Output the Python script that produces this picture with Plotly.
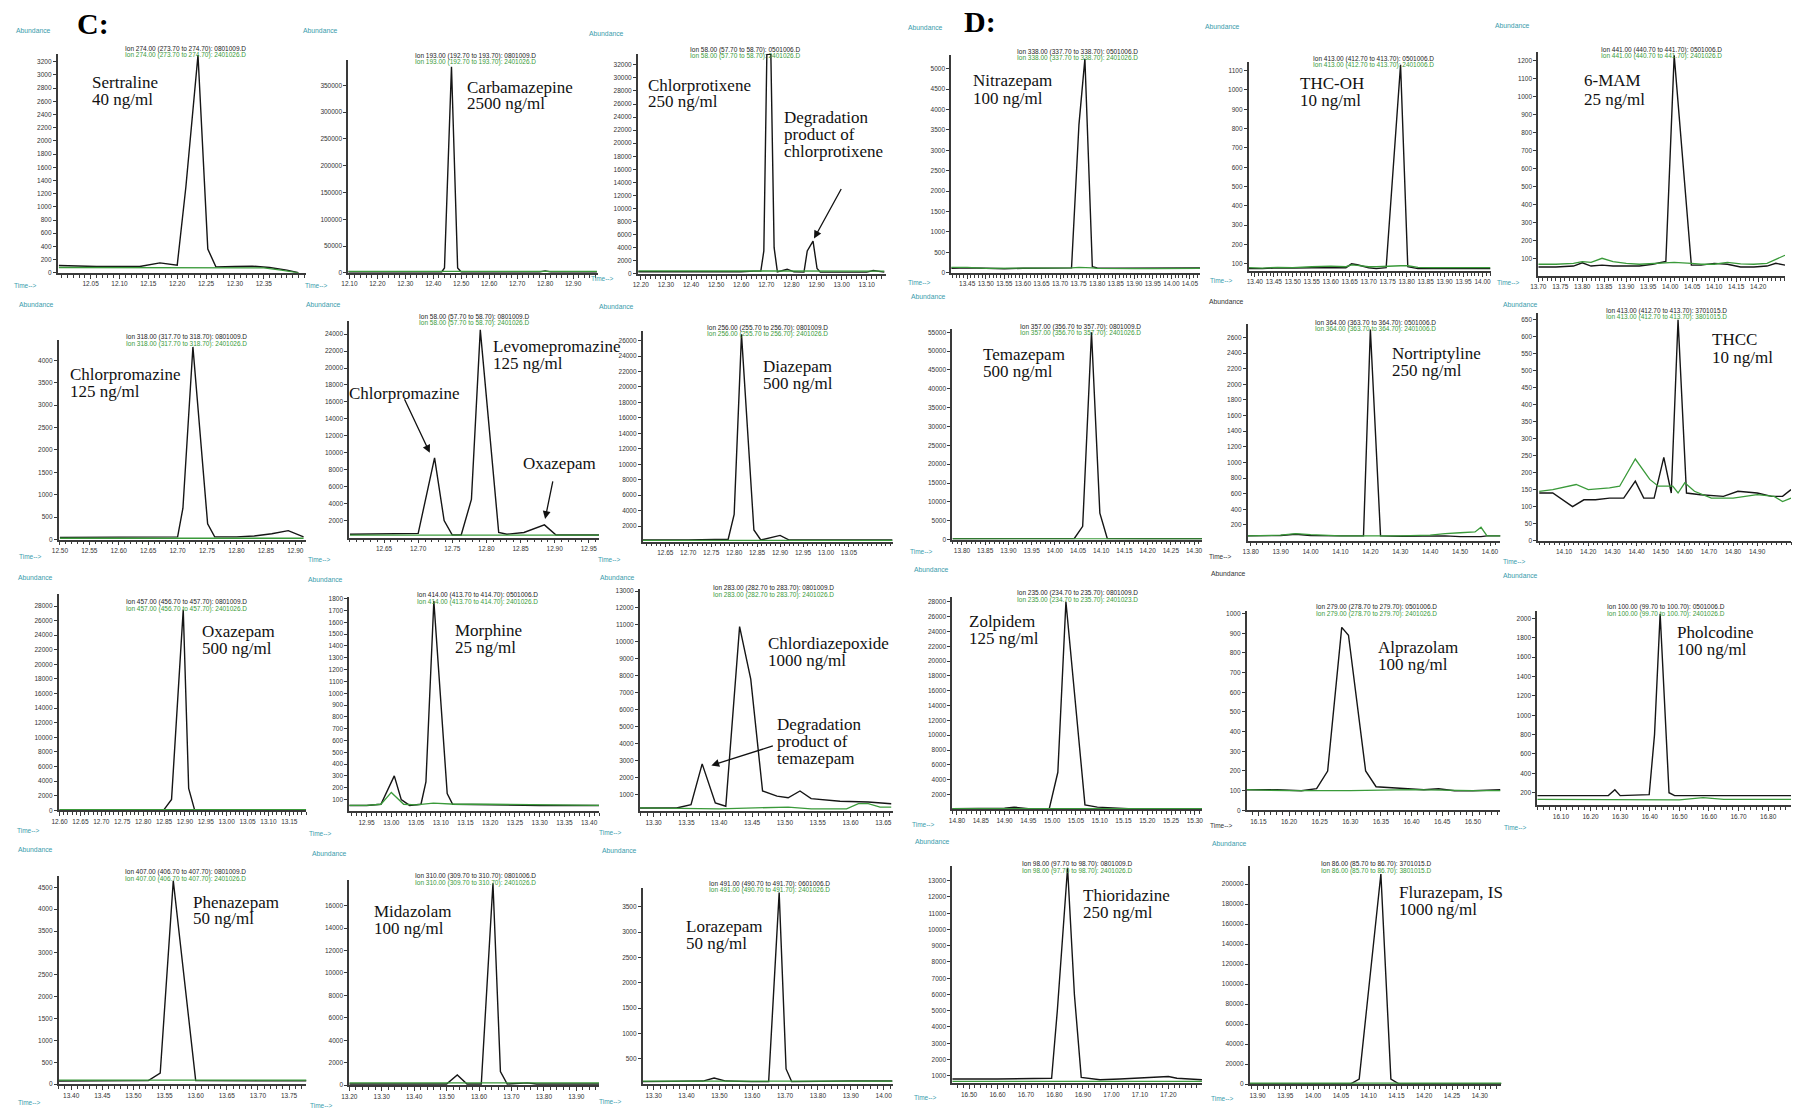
import plotly.graph_objects as go

W, H = 1793, 1112

# ---------------- data (retention time, abundance) ----------------
sertraline_t = [11.995, 12.03, 12.06, 12.10, 12.135, 12.17, 12.20, 12.215, 12.236, 12.253, 12.267, 12.30, 12.33, 12.36, 12.39, 12.41]
sertraline_sample = [110, 100, 95, 95, 95, 150, 115, 1300, 3300, 360, 90, 95, 100, 80, 40, 0]
sertraline_blank_t = [11.995, 12.10, 12.20, 12.30, 12.35, 12.38, 12.41]
sertraline_blank = [80, 78, 80, 78, 75, 40, 0]

carbamazepine_t = [12.096, 12.20, 12.30, 12.40, 12.43, 12.44, 12.465, 12.487, 12.50, 12.60, 12.70, 12.78, 12.80, 12.82, 12.90, 12.985]
carbamazepine_sample = [1500, 1500, 1500, 1500, 1500, 9000, 385000, 9000, 1500, 1500, 1500, 1500, 3500, 1500, 1500, 1500]
carbamazepine_blank_t = [12.096, 12.40, 12.70, 12.985]
carbamazepine_blank = [2500, 2500, 2500, 2500]

chlorprotixene_t = [12.19, 12.30, 12.40, 12.50, 12.60, 12.65, 12.678, 12.69, 12.702, 12.718, 12.731, 12.744, 12.76, 12.783, 12.81, 12.85, 12.863, 12.886, 12.902, 12.915, 13.00, 13.10, 13.126, 13.17]
chlorprotixene_sample = [300, 300, 250, 250, 300, 400, 400, 3500, 33600, 33600, 4000, 300, 500, 700, 300, 250, 3500, 5000, 800, 250, 250, 250, 500, 250]
chlorprotixene_blank_t = [12.19, 12.50, 12.80, 13.17]
chlorprotixene_blank = [450, 400, 420, 400]

nitrazepam_t = [13.407, 13.45, 13.50, 13.55, 13.60, 13.65, 13.70, 13.731, 13.751, 13.767, 13.787, 13.80, 13.85, 13.90, 13.95, 14.00, 14.077]
nitrazepam_sample = [110, 120, 110, 100, 110, 110, 110, 120, 3630, 5240, 150, 120, 110, 110, 120, 120, 120]
nitrazepam_blank_t = nitrazepam_t
nitrazepam_blank = [130, 130, 110, 110, 110, 115, 120, 120, 130, 130, 120, 110, 100, 100, 100, 100, 110]

thcoh_t = [13.384, 13.42, 13.46, 13.50, 13.55, 13.60, 13.64, 13.655, 13.67, 13.70, 13.72, 13.746, 13.784, 13.803, 13.83, 13.87, 13.91, 13.95, 13.99, 14.021]
thcoh_sample = [75, 75, 80, 78, 80, 80, 80, 100, 95, 80, 75, 80, 1130, 85, 75, 75, 75, 75, 72, 75]
thcoh_blank_t = thcoh_t
thcoh_blank = [80, 78, 82, 80, 85, 88, 85, 95, 92, 85, 85, 88, 90, 90, 82, 80, 80, 80, 78, 80]

mam_t = [13.70, 13.74, 13.78, 13.80, 13.82, 13.845, 13.87, 13.90, 13.93, 13.96, 13.99, 14.009, 14.048, 14.07, 14.10, 14.13, 14.16, 14.19, 14.22, 14.24, 14.261]
mam_sample = [55, 55, 60, 78, 60, 65, 60, 60, 60, 70, 85, 1230, 65, 65, 75, 70, 55, 55, 60, 75, 65]
mam_blank_t = mam_t
mam_blank = [70, 70, 75, 85, 80, 103, 85, 75, 70, 75, 80, 80, 75, 70, 70, 80, 72, 70, 75, 95, 120]

chlorpromazine_t = [12.50, 12.55, 12.60, 12.65, 12.70, 12.709, 12.726, 12.751, 12.763, 12.80, 12.83, 12.86, 12.888, 12.914]
chlorpromazine_sample = [50, 50, 55, 55, 60, 700, 4300, 350, 60, 60, 80, 130, 200, 60]
chlorpromazine_blank_t = [12.50, 12.70, 12.914]
chlorpromazine_blank = [30, 30, 30]

levomepromazine_t = [12.60, 12.65, 12.70, 12.724, 12.738, 12.75, 12.763, 12.778, 12.791, 12.818, 12.83, 12.855, 12.885, 12.902, 12.93, 12.965]
levomepromazine_sample = [400, 450, 500, 9400, 2000, 300, 300, 4500, 24500, 600, 400, 600, 1500, 300, 300, 300]
levomepromazine_blank_t = [12.60, 12.80, 12.965]
levomepromazine_blank = [300, 300, 300]

diazepam_t = [12.60, 12.70, 12.787, 12.80, 12.816, 12.843, 12.858, 12.90, 12.92, 13.00, 13.10, 13.145]
diazepam_sample = [200, 200, 300, 3500, 26800, 1500, 200, 800, 200, 200, 200, 200]
diazepam_blank_t = [12.60, 12.90, 13.145]
diazepam_blank = [150, 150, 150]

temazepam_t = [13.78, 13.90, 14.00, 14.042, 14.06, 14.079, 14.097, 14.113, 14.20, 14.317]
temazepam_sample = [200, 200, 200, 300, 3500, 55000, 7000, 300, 200, 200]
temazepam_blank_t = [13.78, 14.05, 14.317]
temazepam_blank = [200, 200, 200]

nortriptyline_t = [13.79, 13.85, 13.90, 13.95, 14.00, 14.10, 14.177, 14.20, 14.234, 14.30, 14.40, 14.45, 14.50, 14.55, 14.57, 14.59, 14.635]
nortriptyline_sample = [60, 60, 65, 80, 65, 60, 60, 2700, 60, 55, 55, 60, 50, 50, 50, 60, 60]
nortriptyline_blank_t = nortriptyline_t
nortriptyline_blank = [60, 65, 70, 90, 75, 60, 60, 60, 60, 60, 70, 90, 100, 110, 170, 60, 60]

thcc_t = [13.997, 14.053, 14.135, 14.182, 14.23, 14.288, 14.347, 14.395, 14.43, 14.473, 14.513, 14.544, 14.572, 14.607, 14.665, 14.76, 14.82, 14.90, 14.96, 15.005, 15.04]
thcc_sample = [140, 140, 100, 120, 120, 125, 125, 175, 125, 125, 245, 140, 650, 140, 135, 130, 145, 140, 130, 130, 150]
thcc_blank_t = [13.997, 14.053, 14.15, 14.20, 14.288, 14.33, 14.395, 14.455, 14.49, 14.55, 14.572, 14.60, 14.64, 14.71, 14.80, 14.90, 14.97, 15.005, 15.04]
thcc_blank = [145, 150, 165, 150, 155, 160, 240, 180, 160, 160, 140, 170, 145, 125, 125, 135, 130, 115, 125]

oxazepam_t = [12.60, 12.70, 12.80, 12.85, 12.868, 12.896, 12.909, 12.923, 13.00, 13.10, 13.19]
oxazepam_sample = [50, 50, 50, 100, 1500, 27500, 3000, 100, 50, 50, 50]
oxazepam_blank_t = [12.60, 12.90, 13.19]
oxazepam_blank = [100, 100, 100]

morphine_t = [12.915, 12.95, 12.979, 13.006, 13.02, 13.037, 13.06, 13.07, 13.086, 13.113, 13.124, 13.20, 13.30, 13.42]
morphine_sample = [50, 50, 60, 300, 100, 50, 60, 250, 1780, 150, 60, 55, 50, 50]
morphine_blank_t = [12.915, 12.95, 12.979, 13.00, 13.025, 13.05, 13.085, 13.13, 13.20, 13.30, 13.42]
morphine_blank = [50, 50, 60, 160, 60, 55, 70, 60, 60, 55, 50]

chlordiazepoxide_t = [13.279, 13.335, 13.357, 13.374, 13.394, 13.41, 13.431, 13.448, 13.466, 13.488, 13.505, 13.523, 13.54, 13.584, 13.627, 13.662]
chlordiazepoxide_sample = [200, 200, 400, 2800, 500, 300, 10900, 7800, 1200, 900, 800, 1200, 750, 600, 550, 450]
chlordiazepoxide_blank_t = [13.279, 13.40, 13.505, 13.54, 13.594, 13.612, 13.627, 13.645, 13.662]
chlordiazepoxide_blank = [200, 150, 250, 150, 150, 450, 450, 250, 250]

zolpidem_t = [14.79, 14.85, 14.90, 14.92, 14.95, 14.994, 15.012, 15.029, 15.069, 15.095, 15.16, 15.25, 15.315]
zolpidem_sample = [100, 100, 150, 300, 100, 100, 5000, 28000, 600, 300, 100, 100, 100]
zolpidem_blank_t = [14.79, 15.05, 15.315]
zolpidem_blank = [100, 100, 100]

alprazolam_t = [16.131, 16.18, 16.22, 16.245, 16.263, 16.286, 16.297, 16.325, 16.342, 16.388, 16.42, 16.444, 16.47, 16.50, 16.545]
alprazolam_sample = [105, 105, 100, 110, 200, 930, 890, 200, 120, 110, 105, 110, 100, 100, 105]
alprazolam_blank_t = [16.131, 16.20, 16.30, 16.40, 16.50, 16.545]
alprazolam_blank = [105, 100, 100, 105, 100, 100]

pholcodine_t = [16.02, 16.10, 16.20, 16.26, 16.282, 16.30, 16.398, 16.416, 16.435, 16.465, 16.484, 16.60, 16.70, 16.877]
pholcodine_sample = [170, 170, 170, 170, 230, 170, 180, 800, 2050, 200, 170, 170, 165, 170]
pholcodine_blank_t = [16.02, 16.30, 16.50, 16.58, 16.65, 16.877]
pholcodine_blank = [130, 130, 125, 150, 130, 130]

phenazepam_t = [13.38, 13.45, 13.50, 13.524, 13.543, 13.564, 13.60, 13.65, 13.70, 13.778]
phenazepam_sample = [70, 70, 70, 80, 250, 4650, 80, 70, 75, 75]
phenazepam_blank_t = [13.38, 13.58, 13.778]
phenazepam_blank = [90, 90, 90]

midazolam_t = [13.20, 13.30, 13.40, 13.50, 13.533, 13.563, 13.607, 13.643, 13.666, 13.687, 13.749, 13.777, 13.85, 13.97]
midazolam_sample = [100, 100, 100, 100, 900, 100, 100, 18000, 1200, 100, 200, 100, 100, 100]
midazolam_blank_t = [13.20, 13.60, 13.97]
midazolam_blank = [200, 200, 200]

lorazepam_t = [13.267, 13.35, 13.45, 13.484, 13.52, 13.60, 13.65, 13.682, 13.703, 13.72, 13.80, 13.90, 14.027]
lorazepam_sample = [50, 50, 60, 120, 60, 50, 50, 3780, 300, 50, 60, 60, 60]
lorazepam_blank_t = [13.267, 13.65, 14.027]
lorazepam_blank = [60, 60, 60]

thioridazine_t = [16.441, 16.60, 16.79, 16.81, 16.846, 16.87, 16.894, 16.96, 17.03, 17.20, 17.23, 17.318]
thioridazine_sample = [800, 800, 850, 5000, 13800, 6000, 900, 750, 800, 950, 850, 750]
thioridazine_blank_t = [16.441, 16.90, 17.318]
thioridazine_blank = [650, 650, 650]

flurazepam_t = [13.886, 14.00, 14.067, 14.083, 14.122, 14.14, 14.155, 14.25, 14.339]
flurazepam_sample = [100, 100, 100, 5000, 210000, 5000, 100, 100, 100]
flurazepam_blank_t = [13.886, 14.10, 14.339]
flurazepam_blank = [1000, 1000, 1000]

# ion header strings (sample / blank)
ion_headers = [
    ("Ion 274.00 (273.70 to 274.70): 0801009.D", "Ion 274.00 (273.70 to 274.70): 2401026.D"),
    ("Ion 193.00 (192.70 to 193.70): 0801009.D", "Ion 193.00 (192.70 to 193.70): 2401026.D"),
    ("Ion 58.00 (57.70 to 58.70): 0501006.D", "Ion 58.00 (57.70 to 58.70): 2401026.D"),
    ("Ion 338.00 (337.70 to 338.70): 0501006.D", "Ion 338.00 (337.70 to 338.70): 2401026.D"),
    ("Ion 413.00 (412.70 to 413.70): 0501006.D", "Ion 413.00 (412.70 to 413.70): 2401006.D"),
    ("Ion 441.00 (440.70 to 441.70): 0501006.D", "Ion 441.00 (440.70 to 441.70): 2401026.D"),
    ("Ion 318.00 (317.70 to 318.70): 0801009.D", "Ion 318.00 (317.70 to 318.70): 2401026.D"),
    ("Ion 58.00 (57.70 to 58.70): 0801009.D", "Ion 58.00 (57.70 to 58.70): 2401026.D"),
    ("Ion 256.00 (255.70 to 256.70): 0801009.D", "Ion 256.00 (255.70 to 256.70): 2401026.D"),
    ("Ion 357.00 (356.70 to 357.70): 0801009.D", "Ion 357.00 (356.70 to 357.70): 2401026.D"),
    ("Ion 364.00 (363.70 to 364.70): 0501006.D", "Ion 364.00 (363.70 to 364.70): 2401006.D"),
    ("Ion 413.00 (412.70 to 413.70): 3701015.D", "Ion 413.00 (412.70 to 413.70): 3801015.D"),
    ("Ion 457.00 (456.70 to 457.70): 0801009.D", "Ion 457.00 (456.70 to 457.70): 2401026.D"),
    ("Ion 414.00 (413.70 to 414.70): 0501006.D", "Ion 414.00 (413.70 to 414.70): 2401026.D"),
    ("Ion 283.00 (282.70 to 283.70): 0801009.D", "Ion 283.00 (282.70 to 283.70): 2401026.D"),
    ("Ion 235.00 (234.70 to 235.70): 0801009.D", "Ion 235.00 (234.70 to 235.70): 2401023.D"),
    ("Ion 279.00 (278.70 to 279.70): 0501006.D", "Ion 279.00 (278.70 to 279.70): 2401026.D"),
    ("Ion 100.00 (99.70 to 100.70): 0501006.D", "Ion 100.00 (99.70 to 100.70): 2401026.D"),
    ("Ion 407.00 (406.70 to 407.70): 0801009.D", "Ion 407.00 (406.70 to 407.70): 2401026.D"),
    ("Ion 310.00 (309.70 to 310.70): 0801006.D", "Ion 310.00 (309.70 to 310.70): 2401026.D"),
    ("Ion 491.00 (490.70 to 491.70): 0601006.D", "Ion 491.00 (490.70 to 491.70): 2401026.D"),
    ("Ion 98.00 (97.70 to 98.70): 0801009.D", "Ion 98.00 (97.70 to 98.70): 2401026.D"),
    ("Ion 86.00 (85.70 to 86.70): 3701015.D", "Ion 86.00 (85.70 to 86.70): 3801015.D"),
]

# ---------------- panel layout (pixel boxes, ranges, ticks, labels) ----------------
P = [
    dict(d=(sertraline_t, sertraline_sample, sertraline_blank_t, sertraline_blank), box=(50, 52, 300, 272), xr=(11.993, 12.424), yr=(0, 3320), xt=(12.05, 12.35, 0.05), yt=(0, 3200, 200), hdr=(178, 47), ab=(26, 29), tm=(18, 285), lab=[("Sertraline", 90, 82), ("40 ng/ml", 90, 99)]),
    dict(d=(carbamazepine_t, carbamazepine_sample, carbamazepine_blank_t, carbamazepine_blank), box=(342, 58, 593, 272), xr=(12.096, 12.989), yr=(0, 398000), xt=(12.10, 12.90, 0.10), yt=(0, 350000, 50000), hdr=(470, 54), ab=(314, 29), tm=(310, 285), lab=[("Carbamazepine", 467, 87), ("2500 ng/ml", 467, 103)]),
    dict(d=(chlorprotixene_t, chlorprotixene_sample, chlorprotixene_blank_t, chlorprotixene_blank), box=(633, 52, 882, 273), xr=(12.188, 13.175), yr=(0, 33700), xt=(12.20, 13.10, 0.10), yt=(0, 32000, 2000), hdr=(741, 48), ab=(602, 32), tm=(598, 278), lab=[("Chlorprotixene", 649, 85), ("250 ng/ml", 649, 101), ("Degradation", 786, 117), ("product of", 786, 134), ("chlorprotixene", 786, 151)], arrows=[(12.89, 5400, 28, -51)]),
    dict(d=(nitrazepam_t, nitrazepam_sample, nitrazepam_blank_t, nitrazepam_blank), box=(948, 53, 1198, 272), xr=(13.407, 14.077), yr=(0, 5340), xt=(13.45, 14.05, 0.05), yt=(0, 5000, 500), hdr=(1075, 50), ab=(922, 26), tm=(916, 282), lab=[("Nitrazepam", 976, 80), ("100 ng/ml", 976, 98)]),
    dict(d=(thcoh_t, thcoh_sample, thcoh_blank_t, thcoh_blank), box=(1247, 60, 1490, 270), xr=(13.384, 14.021), yr=(64, 1146), xt=(13.40, 14.00, 0.05), yt=(100, 1100, 100), hdr=(1372, 57), ab=(1221, 25), tm=(1220, 280), lab=[("THC-OH", 1305, 83), ("10 ng/ml", 1305, 100)]),
    dict(d=(mam_t, mam_sample, mam_blank_t, mam_blank), box=(1538, 50, 1786, 275), xr=(13.70, 14.261), yr=(6, 1250), xt=(13.70, 14.20, 0.05), yt=(100, 1200, 100), hdr=(1662, 48), ab=(1512, 24), tm=(1508, 282), lab=[("6-MAM", 1590, 80), ("25 ng/ml", 1590, 99)]),
    dict(d=(chlorpromazine_t, chlorpromazine_sample, chlorpromazine_blank_t, chlorpromazine_blank), box=(51, 340, 300, 540), xr=(12.498, 12.919), yr=(0, 4444), xt=(12.50, 12.90, 0.05), yt=(0, 4000, 500), hdr=(179, 337), ab=(29, 304), tm=(23, 557), lab=[("Chlorpromazine", 68, 375), ("125 ng/ml", 68, 392)]),
    dict(d=(levomepromazine_t, levomepromazine_sample, levomepromazine_blank_t, levomepromazine_blank), box=(343, 320, 594, 538), xr=(12.599, 12.965), yr=(0, 25600), xt=(12.65, 12.95, 0.05), yt=(2000, 24000, 2000), hdr=(469, 316), ab=(317, 304), tm=(313, 560), lab=[("Levomepromazine", 493, 347), ("125 ng/ml", 493, 364), ("Chlorpromazine", 349, 394), ("Oxazepam", 524, 465)], arrows=[(12.717, 10000, -26, -55), (12.886, 2200, 8, -39)]),
    dict(d=(diazepam_t, diazepam_sample, diazepam_blank_t, diazepam_blank), box=(638, 330, 889, 542), xr=(12.601, 13.145), yr=(0, 27300), xt=(12.65, 13.05, 0.05), yt=(2000, 26000, 2000), hdr=(763, 327), ab=(612, 306), tm=(605, 560), lab=[("Diazepam", 765, 367), ("500 ng/ml", 765, 384)]),
    dict(d=(temazepam_t, temazepam_sample, temazepam_blank_t, temazepam_blank), box=(949, 328, 1200, 540), xr=(13.779, 14.317), yr=(0, 56000), xt=(13.80, 14.30, 0.05), yt=(0, 55000, 5000), hdr=(1078, 326), ab=(925, 296), tm=(918, 552), lab=[("Temazepam", 986, 355), ("500 ng/ml", 986, 372)]),
    dict(d=(nortriptyline_t, nortriptyline_sample, nortriptyline_blank_t, nortriptyline_blank), box=(1246, 323, 1500, 541), xr=(13.79, 14.635), yr=(0, 2777), xt=(13.80, 14.60, 0.10), yt=(200, 2600, 200), hdr=(1374, 322), ab=(1225, 301), tm=(1219, 557), lab=[("Nortriptyline", 1397, 354), ("250 ng/ml", 1397, 371)], dark=True),
    dict(d=(thcc_t, thcc_sample, thcc_blank_t, thcc_blank), box=(1538, 312, 1792, 541), xr=(13.993, 15.04), yr=(0, 671), xt=(14.10, 14.90, 0.10), yt=(0, 650, 50), hdr=(1667, 310), ab=(1520, 304), tm=(1514, 562), lab=[("THCC", 1719, 340), ("10 ng/ml", 1719, 358)]),
    dict(d=(oxazepam_t, oxazepam_sample, oxazepam_blank_t, oxazepam_blank), box=(51, 595, 300, 812), xr=(12.598, 13.191), yr=(0, 29600), xt=(12.60, 13.15, 0.05), yt=(0, 28000, 2000), hdr=(179, 603), ab=(28, 578), tm=(21, 832), lab=[("Oxazepam", 201, 633), ("500 ng/ml", 201, 650)]),
    dict(d=(morphine_t, morphine_sample, morphine_blank_t, morphine_blank), box=(343, 598, 594, 813), xr=(12.915, 13.42), yr=(0, 1812), xt=(12.95, 13.40, 0.05), yt=(100, 1800, 100), hdr=(472, 596), ab=(319, 580), tm=(314, 835), lab=[("Morphine", 455, 632), ("25 ng/ml", 455, 649)]),
    dict(d=(chlordiazepoxide_t, chlordiazepoxide_sample, chlordiazepoxide_blank_t, chlordiazepoxide_blank), box=(635, 590, 889, 813), xr=(13.279, 13.664), yr=(0, 13100), xt=(13.30, 13.65, 0.05), yt=(1000, 13000, 1000), hdr=(769, 589), ab=(613, 578), tm=(606, 834), lab=[("Chlordiazepoxide", 770, 645), ("1000 ng/ml", 770, 662), ("Degradation", 779, 727), ("product of", 779, 744), ("temazepam", 779, 761)], arrows=[(13.388, 2710, 63, -20)]),
    dict(d=(zolpidem_t, zolpidem_sample, zolpidem_blank_t, zolpidem_blank), box=(949, 598, 1200, 811), xr=(14.79, 15.315), yr=(0, 28600), xt=(14.80, 15.30, 0.05), yt=(2000, 28000, 2000), hdr=(1075, 594), ab=(928, 570), tm=(920, 826), lab=[("Zolpidem", 972, 623), ("125 ng/ml", 972, 640)]),
    dict(d=(alprazolam_t, alprazolam_sample, alprazolam_blank_t, alprazolam_blank), box=(1245, 612, 1500, 812), xr=(16.131, 16.545), yr=(0, 1012), xt=(16.15, 16.50, 0.05), yt=(0, 1000, 100), hdr=(1375, 608), ab=(1227, 574), tm=(1220, 827), lab=[("Alprazolam", 1383, 649), ("100 ng/ml", 1383, 666)], dark=True),
    dict(d=(pholcodine_t, pholcodine_sample, pholcodine_blank_t, pholcodine_blank), box=(1537, 612, 1792, 807), xr=(16.02, 16.877), yr=(69, 2075), xt=(16.10, 16.80, 0.10), yt=(200, 2000, 200), hdr=(1666, 608), ab=(1520, 576), tm=(1515, 829), lab=[("Pholcodine", 1683, 634), ("100 ng/ml", 1683, 651)]),
    dict(d=(phenazepam_t, phenazepam_sample, phenazepam_blank_t, phenazepam_blank), box=(51, 878, 300, 1087), xr=(13.38, 13.778), yr=(0, 4757), xt=(13.40, 13.75, 0.05), yt=(0, 4500, 500), hdr=(178, 874), ab=(28, 851), tm=(22, 1105), lab=[("Phenazepam", 192, 906), ("50 ng/ml", 192, 922)]),
    dict(d=(midazolam_t, midazolam_sample, midazolam_blank_t, midazolam_blank), box=(343, 882, 594, 1088), xr=(13.20, 13.97), yr=(0, 18280), xt=(13.20, 13.90, 0.10), yt=(0, 16000, 2000), hdr=(470, 878), ab=(323, 855), tm=(315, 1108), lab=[("Midazolam", 374, 915), ("100 ng/ml", 374, 932)]),
    dict(d=(lorazepam_t, lorazepam_sample, lorazepam_blank_t, lorazepam_blank), box=(638, 890, 889, 1087), xr=(13.267, 14.027), yr=(0, 3871), xt=(13.30, 14.00, 0.10), yt=(500, 3500, 500), hdr=(765, 886), ab=(615, 852), tm=(606, 1104), lab=[("Lorazepam", 687, 930), ("50 ng/ml", 687, 947)]),
    dict(d=(thioridazine_t, thioridazine_sample, thioridazine_blank_t, thioridazine_blank), box=(949, 868, 1200, 1086), xr=(16.441, 17.318), yr=(547, 13900), xt=(16.50, 17.20, 0.10), yt=(1000, 13000, 1000), hdr=(1075, 866), ab=(929, 843), tm=(922, 1100), lab=[("Thioridazine", 1086, 899), ("250 ng/ml", 1086, 916)]),
    dict(d=(flurazepam_t, flurazepam_sample, flurazepam_blank_t, flurazepam_blank), box=(1248, 868, 1501, 1087), xr=(13.886, 14.339), yr=(0, 217900), xt=(13.90, 14.30, 0.05), yt=(0, 200000, 20000), hdr=(1375, 866), ab=(1228, 845), tm=(1221, 1101), lab=[("Flurazepam, IS", 1404, 896), ("1000 ng/ml", 1404, 913)]),
]

BLACK = "#151515"
GREEN = "#3a9a3a"
TEAL = "#3a9cac"
AXIS = "#3a3a3a"
LABEL_SHIFT = -8  # annotation box padding compensation


def px(x):
    return x / W


def py(y):
    return 1 - y / H


def ticks(a, b, s):
    n = int(round((b - a) / s))
    return [round(a + i * s, 4) for i in range(n + 1)]


fig = go.Figure()
layout = {}
ann = []

for i, p in enumerate(P, start=1):
    sfx = "" if i == 1 else str(i)
    t, s, gt, g = p["d"]
    l, tp, r, b = p["box"]
    fig.add_trace(go.Scatter(x=t, y=s, mode="lines", line=dict(color=BLACK, width=1.4),
                             xaxis="x" + sfx, yaxis="y" + sfx, showlegend=False, hoverinfo="skip"))
    fig.add_trace(go.Scatter(x=gt, y=g, mode="lines", line=dict(color=GREEN, width=1.3),
                             xaxis="x" + sfx, yaxis="y" + sfx, showlegend=False, hoverinfo="skip"))
    xv = ticks(*p["xt"])
    yv = ticks(*p["yt"])
    layout["xaxis" + sfx] = dict(
        domain=[px(l), px(r)], anchor="y" + sfx, range=list(p["xr"]),
        tickmode="array", tickvals=xv, ticktext=[f"{v:.2f}" for v in xv], tickangle=0,
        showline=True, linecolor=AXIS, linewidth=1.5, ticks="outside", ticklen=4, tickwidth=1,
        tickcolor=AXIS, showgrid=False, zeroline=False,
        tickfont=dict(family="Arial", size=6.5, color="#333"),
        minor=dict(tickmode="linear", tick0=p["xt"][0], dtick=p["xt"][2] / 5, ticklen=3,
                   tickwidth=1, tickcolor=AXIS, ticks="outside", showgrid=False),
    )
    layout["yaxis" + sfx] = dict(
        domain=[py(b), py(tp)], anchor="x" + sfx, range=list(p["yr"]),
        tickmode="array", tickvals=yv, ticktext=[str(int(v)) for v in yv],
        showline=True, linecolor=AXIS, linewidth=1.8, ticks="outside", ticklen=3, tickwidth=1,
        tickcolor=AXIS, showgrid=False, zeroline=False,
        tickfont=dict(family="Arial", size=6.5, color="#333"),
    )
    h1, h2 = ion_headers[i - 1]
    hx, hy = p["hdr"]
    ann.append(dict(x=px(hx), y=py(hy), xref="paper", yref="paper", text=h1, showarrow=False,
                    font=dict(family="Arial", size=6.5, color="#222"), xanchor="center", yanchor="middle"))
    ann.append(dict(x=px(hx), y=py(hy + 6.5), xref="paper", yref="paper", text=h2, showarrow=False,
                    font=dict(family="Arial", size=6.5, color=GREEN), xanchor="center", yanchor="middle"))
    lc = "#333" if p.get("dark") else TEAL
    ax_, ay_ = p["ab"]
    ann.append(dict(x=px(ax_), y=py(ay_), xref="paper", yref="paper", text="Abundance", showarrow=False,
                    font=dict(family="Arial", size=6.8, color=lc), xanchor="center", yanchor="middle"))
    tx, ty = p["tm"]
    ann.append(dict(x=px(tx), y=py(ty), xref="paper", yref="paper", text="Time-->", showarrow=False,
                    font=dict(family="Arial", size=6.5, color=lc), xanchor="center", yanchor="middle"))
    for txt, lx, ly in p["lab"]:
        ann.append(dict(x=px(lx + LABEL_SHIFT), y=py(ly - 1), xref="paper", yref="paper", text=txt, showarrow=False,
                        font=dict(family="Liberation Serif", size=17, color="#111"),
                        xanchor="left", yanchor="middle"))
    for (hx2, hy2, dx, dy) in p.get("arrows", []):
        ann.append(dict(x=hx2, y=hy2, xref="x" + sfx, yref="y" + sfx, text="", showarrow=True,
                        arrowhead=2, arrowsize=1.2, arrowwidth=1.3, arrowcolor="#111", ax=dx, ay=dy))

ann.append(dict(x=px(85), y=py(22), xref="paper", yref="paper", text="<b>C:</b>", showarrow=False,
                font=dict(family="Liberation Serif", size=30, color="#000"), xanchor="center", yanchor="middle"))
ann.append(dict(x=px(977), y=py(20), xref="paper", yref="paper", text="<b>D:</b>", showarrow=False,
                font=dict(family="Liberation Serif", size=30, color="#000"), xanchor="center", yanchor="middle"))

fig.update_layout(
    width=W, height=H, margin=dict(l=0, r=0, t=0, b=0),
    paper_bgcolor="white", plot_bgcolor="white", showlegend=False,
    annotations=ann, **layout,
)

fig.write_html("out.html")
